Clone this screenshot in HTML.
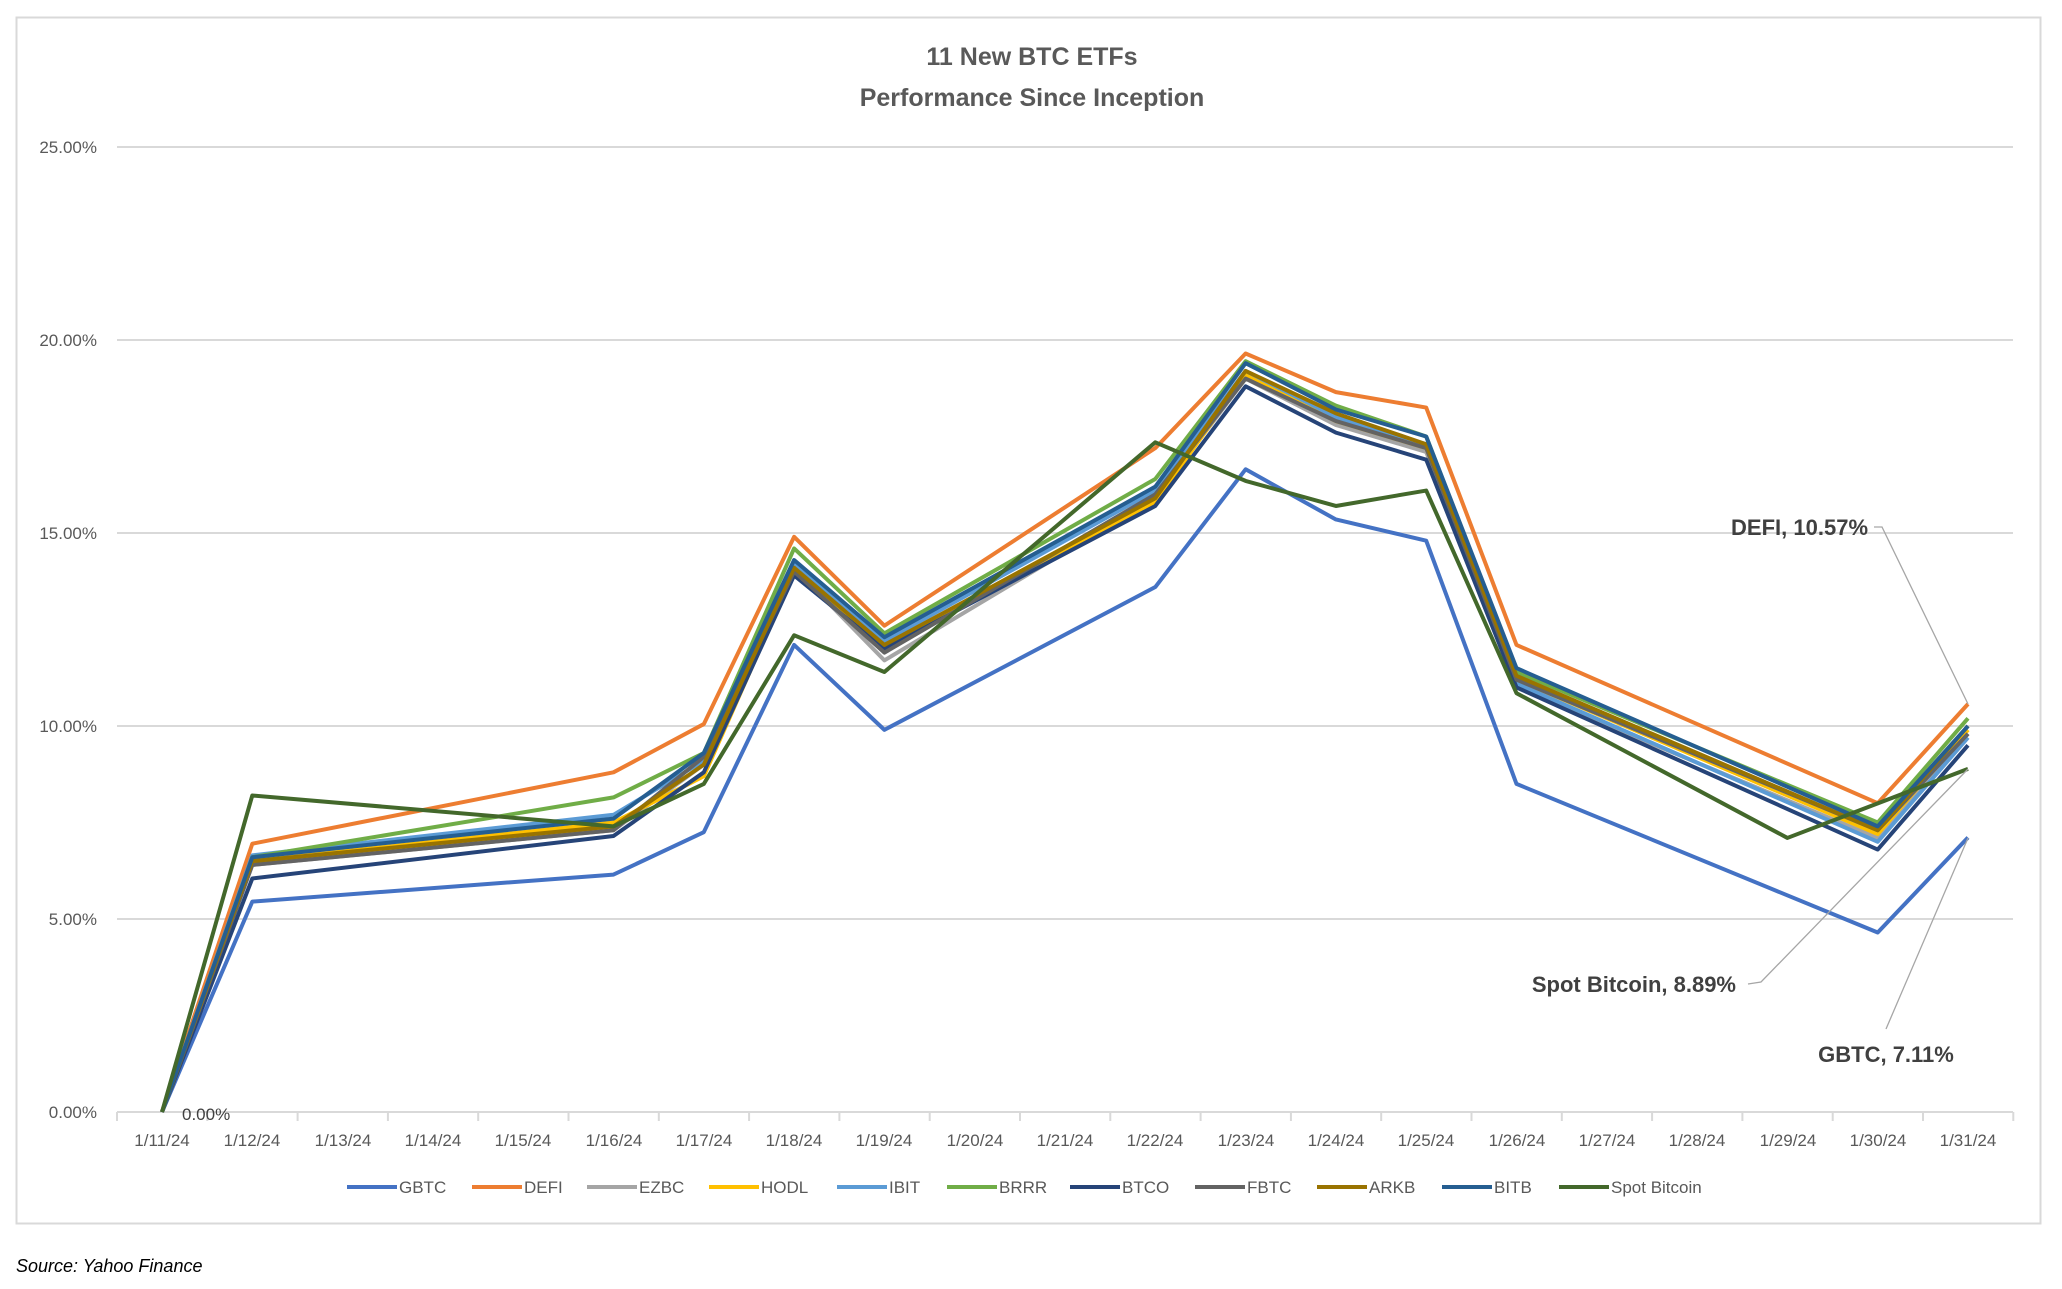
<!DOCTYPE html>
<html><head><meta charset="utf-8"><style>
body{margin:0;background:#fff;width:2062px;height:1284px;overflow:hidden}
svg text{font-family:"Liberation Sans",sans-serif}
</style></head><body>
<svg id="s" width="2062" height="1284" xmlns="http://www.w3.org/2000/svg">
<rect x="16.5" y="17.5" width="2024" height="1206" fill="#fff" stroke="#d9d9d9" stroke-width="2"/>
<text x="1032" y="65" text-anchor="middle" font-size="25" font-weight="bold" fill="#595959">11 New BTC ETFs</text>
<text x="1032" y="106" text-anchor="middle" font-size="25" font-weight="bold" fill="#595959">Performance Since Inception</text>
<g stroke="#d9d9d9" stroke-width="2">
<line x1="117" y1="147" x2="2013" y2="147"/><line x1="117" y1="340" x2="2013" y2="340"/>
<line x1="117" y1="533" x2="2013" y2="533"/><line x1="117" y1="726" x2="2013" y2="726"/>
<line x1="117" y1="919" x2="2013" y2="919"/><line x1="117" y1="1112" x2="2013" y2="1112"/>
</g>
<g id="ticks" stroke="#d9d9d9" stroke-width="2"></g>
<g font-size="17" fill="#595959" text-anchor="end">
<text x="97" y="153">25.00%</text><text x="97" y="346">20.00%</text><text x="97" y="539">15.00%</text>
<text x="97" y="732">10.00%</text><text x="97" y="925">5.00%</text><text x="97" y="1118">0.00%</text>
</g>
<g font-size="17" fill="#595959" text-anchor="middle" id="xl">
<text x="162" y="1146">1/11/24</text><text x="252" y="1146">1/12/24</text><text x="343" y="1146">1/13/24</text><text x="433" y="1146">1/14/24</text><text x="523" y="1146">1/15/24</text><text x="614" y="1146">1/16/24</text><text x="704" y="1146">1/17/24</text><text x="794" y="1146">1/18/24</text><text x="884" y="1146">1/19/24</text><text x="975" y="1146">1/20/24</text><text x="1065" y="1146">1/21/24</text><text x="1155" y="1146">1/22/24</text><text x="1246" y="1146">1/23/24</text><text x="1336" y="1146">1/24/24</text><text x="1426" y="1146">1/25/24</text><text x="1517" y="1146">1/26/24</text><text x="1607" y="1146">1/27/24</text><text x="1697" y="1146">1/28/24</text><text x="1788" y="1146">1/29/24</text><text x="1878" y="1146">1/30/24</text><text x="1968" y="1146">1/31/24</text>
</g>
<g id="lines" fill="none" stroke-width="4" stroke-linejoin="round"></g>
<text x="182" y="1120" font-size="17" fill="#404040">0.00%</text>
<g stroke="#a6a6a6" stroke-width="1.3" fill="none">
<polyline points="1874,527 1882,527 1968,704"/>
<polyline points="1748,984 1761,982 1968,769"/>
<polyline points="1886,1029 1968,838"/>
</g>
<g font-size="22" font-weight="bold" fill="#404040">
<text x="1868" y="535" text-anchor="end">DEFI, 10.57%</text>
<text x="1736" y="992" text-anchor="end">Spot Bitcoin, 8.89%</text>
<text x="1886" y="1062" text-anchor="middle">GBTC, 7.11%</text>
</g>
<g id="leg" font-size="17" fill="#595959"></g>
<text x="16" y="1272" font-size="18" font-style="italic" fill="#000">Source: Yahoo Finance</text>
</svg>
<script>
var ns="http://www.w3.org/2000/svg";
function X(i){return 162+i*90.3}function Y(v){return 1112-v*38.6}
var t=document.getElementById('ticks');
for(var k=0;k<=21;k++){var l=document.createElementNS(ns,'line');var x=117+k*90.3;l.setAttribute('x1',x);l.setAttribute('x2',x);l.setAttribute('y1',1112);l.setAttribute('y2',1121);t.appendChild(l);}
var idx=[0,1,5,6,7,8,11,12,13,14,15,19,20];
var S=[
["GBTC","#4472C4",[0,5.45,6.15,7.25,12.1,9.9,13.6,16.65,15.35,14.8,8.5,4.65,7.11]],
["DEFI","#ED7D31",[0,6.95,8.8,10.05,14.9,12.6,17.2,19.65,18.65,18.25,12.1,8.0,10.57]],
["EZBC","#A5A5A5",[0,6.4,7.3,9.0,14.1,11.7,15.9,19.0,17.8,17.1,11.0,7.1,9.8]],
["HODL","#FFC000",[0,6.5,7.5,8.7,14.0,12.0,15.8,19.1,17.9,17.2,11.2,7.2,9.9]],
["IBIT","#5B9BD5",[0,6.65,7.7,9.1,14.2,12.2,16.1,19.2,18.0,17.3,11.1,7.0,9.7]],
["BRRR","#70AD47",[0,6.6,8.15,9.3,14.6,12.4,16.4,19.45,18.3,17.5,11.4,7.5,10.2]],
["BTCO","#264478",[0,6.05,7.15,8.8,13.9,12.0,15.7,18.8,17.6,16.9,11.0,6.8,9.5]],
["FBTC","#636363",[0,6.4,7.3,9.2,14.0,11.9,16.0,19.0,17.9,17.2,11.2,7.3,9.8]],
["ARKB","#997300",[0,6.5,7.4,9.0,14.1,12.1,15.9,19.2,18.1,17.3,11.3,7.3,10.0]],
["BITB","#255E91",[0,6.6,7.6,9.3,14.3,12.3,16.2,19.4,18.2,17.5,11.5,7.4,10.0]]];
var g=document.getElementById('lines');
function pl(pts,c){var p=document.createElementNS(ns,'polyline');p.setAttribute('points',pts);p.setAttribute('stroke',c);g.appendChild(p);}
S.forEach(function(s){pl(s[2].map(function(v,j){return X(idx[j])+','+Y(v)}).join(' '),s[1]);});
var si=[0,1,5,6,7,8,11,12,13,14,15,18,20],sv=[0,8.2,7.4,8.5,12.35,11.4,17.35,16.35,15.7,16.1,10.85,7.1,8.89];
pl(si.map(function(i,j){return X(i)+','+Y(sv[j])}).join(' '),"#43682B");
var L=[["GBTC","#4472C4",347],["DEFI","#ED7D31",472],["EZBC","#A5A5A5",587],["HODL","#FFC000",709],["IBIT","#5B9BD5",837],["BRRR","#70AD47",947],["BTCO","#264478",1070],["FBTC","#636363",1195],["ARKB","#997300",1317],["BITB","#255E91",1442],["Spot Bitcoin","#43682B",1559]];
var lg=document.getElementById('leg');
L.forEach(function(a){var l=document.createElementNS(ns,'line');l.setAttribute('x1',a[2]);l.setAttribute('x2',a[2]+50);l.setAttribute('y1',1187);l.setAttribute('y2',1187);l.setAttribute('stroke',a[1]);l.setAttribute('stroke-width',4);lg.appendChild(l);
var tx=document.createElementNS(ns,'text');tx.setAttribute('x',a[2]+52);tx.setAttribute('y',1193);tx.textContent=a[0];lg.appendChild(tx);});
</script>
</body></html>
